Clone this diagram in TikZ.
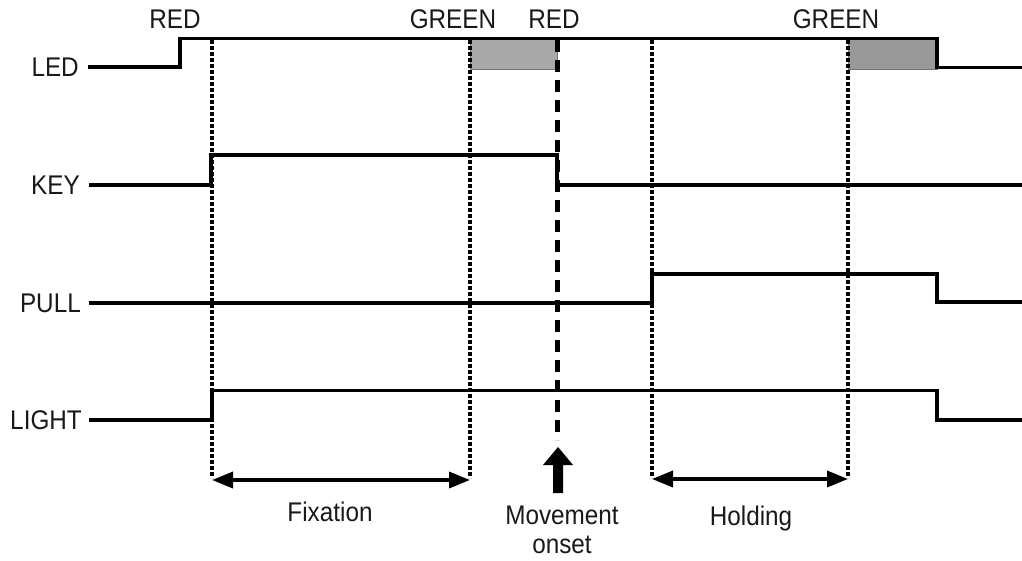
\documentclass[tikz,border=0pt]{standalone}
\usepackage{fontspec}
\setmainfont{Liberation Sans}
\newfontfamily\tracefont[FakeStretch=0.9]{Liberation Sans}
\usetikzlibrary{arrows.meta}
\begin{document}
\begin{tikzpicture}[x=1pt,y=-1pt,
  lbl/.style={font=\tracefont\fontsize{27}{29}\selectfont, text=black!90, inner sep=0pt},
  signal/.style={line width=3.4pt, line join=miter},
  eventline/.style={line width=4.5pt, dash pattern=on 4pt off 2pt, line cap=butt},
  onsetline/.style={line width=5pt, dash pattern=on 12pt off 8pt},
  span/.style={line width=3.6pt, {Triangle[length=21pt,width=16pt]}-{Triangle[length=21pt,width=16pt]}},
  ledbox/.style={draw=black!55, line width=0.8pt}]
\useasboundingbox (0,0) rectangle (1022,560);

% channel names
\node[lbl, anchor=east] (led)   at (79,67)  {LED};
\node[lbl, anchor=east] (key)   at (80,185) {KEY};
\node[lbl, anchor=east] (pull)  at (81,303) {PULL};
\node[lbl, anchor=east] (light) at (82,420) {LIGHT};

% LED colour labels
\node[lbl, anchor=base] (red1)   at (175,28) {RED};
\node[lbl, anchor=base] (green1) at (453,28) {GREEN};
\node[lbl, anchor=base] (red2)   at (554,28) {RED};
\node[lbl, anchor=base] (green2) at (836,28) {GREEN};

% shaded intervals on the LED trace
\fill[black!34, ledbox] (470,39) rectangle (557,69);
\fill[black!40, ledbox] (848,39) rectangle (937,69);

% event markers
\coordinate (m1t) at (212,40);  \coordinate (m1b) at (212,478);
\coordinate (m2t) at (470,40);  \coordinate (m2b) at (470,478);
\coordinate (m3t) at (652,40);  \coordinate (m3b) at (652,478);
\coordinate (m4t) at (848,40);  \coordinate (m4b) at (848,478);
\coordinate (ont) at (557,40);  \coordinate (onb) at (557,440);
\draw[eventline] (m1t) -- (m1b);
\draw[eventline] (m2t) -- (m2b);
\draw[eventline] (m3t) -- (m3b);
\draw[eventline] (m4t) -- (m4b);
\draw[onsetline] (ont) -- (onb);

% signal traces
\draw[signal] (led.east) ++(9,0) -- (180,67) -- (180,38.5) -- (937,38.5) -- (937,67.5) -- (1022,67.5);
\draw[signal] (key.east) ++(9,0) -- (211,185) -- (211,155) -- (557,155) -- (557,185) -- (1022,185);
\draw[signal] (pull.east) ++(8,0) -- (652,303) -- (652,274) -- (937,274) -- (937,302) -- (1022,302);
\draw[signal] (light.east) ++(7,0) -- (212,420) -- (212,390.5) -- (937,390.5) -- (937,420) -- (1022,420);

% interval arrows
\coordinate (fixl) at (212,480); \coordinate (fixr) at (470,480);
\coordinate (holl) at (652,479); \coordinate (holr) at (848,479);
\draw[span] (fixl) -- (fixr);
\draw[span] (holl) -- (holr);
\node[lbl, anchor=base] (fixation) at (330,521) {Fixation};
\node[lbl, anchor=base] (holding)  at (751,525) {Holding};

% movement onset arrow
\fill (553,493) -- (553,465) -- (543,465) -- (558,447) -- (573,465) -- (563,465) -- (563,493) -- cycle;
\node[lbl, align=center, anchor=north] (onset) at (562,506) {Movement\\onset};
\end{tikzpicture}
\end{document}
